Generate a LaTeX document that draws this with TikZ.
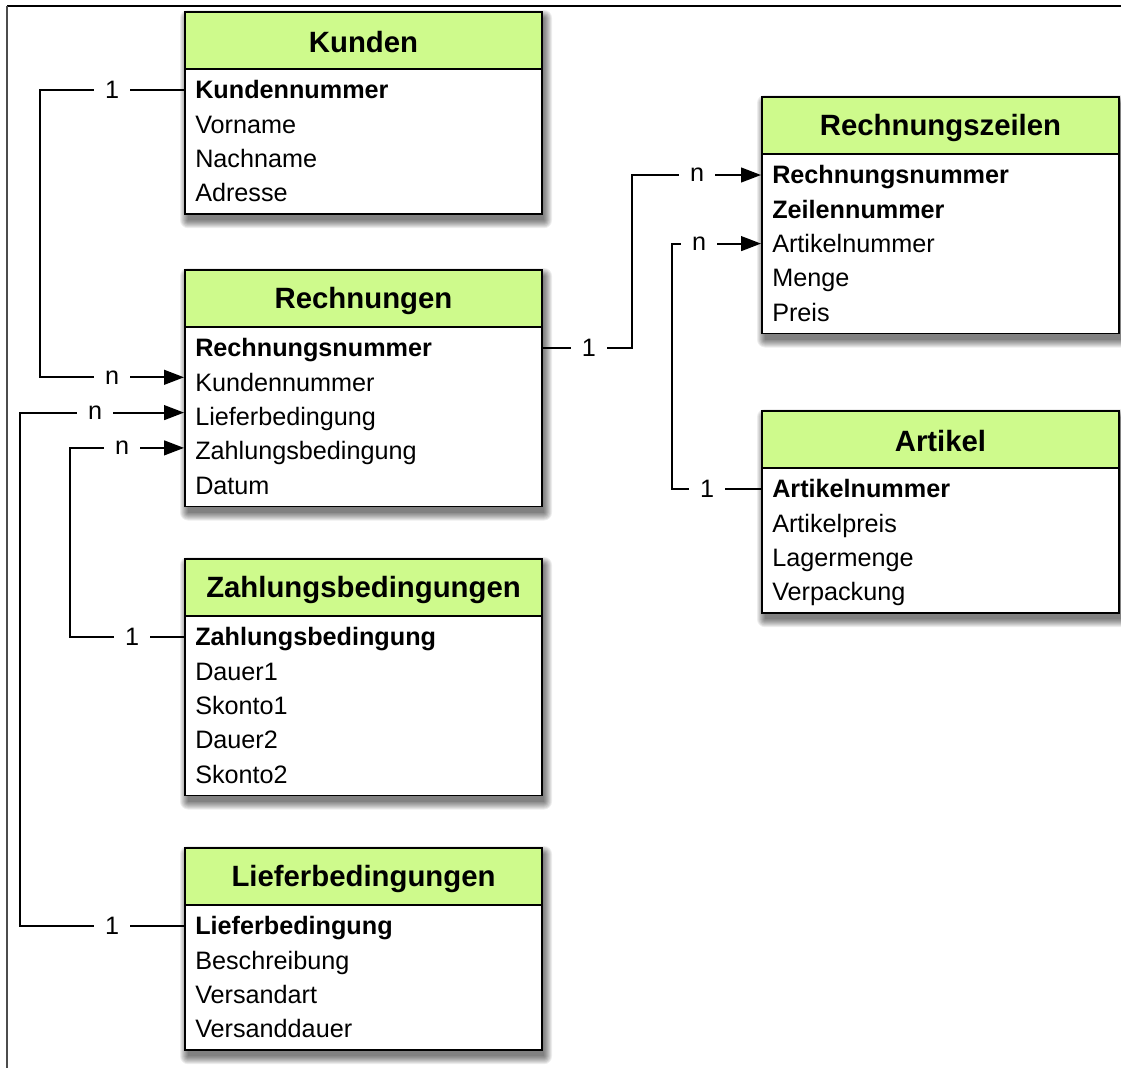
\documentclass[tikz,border=0pt]{standalone}
\usepackage{fontspec}
\setmainfont{Liberation Sans}
\usetikzlibrary{arrows.meta,fit,calc}
\definecolor{hdr}{RGB}{206,250,140}
\newcommand\rowfont{\fontsize{18.9}{22}\selectfont}
\newcommand\titlefont{\fontsize{22}{26}\selectfont\bfseries}
\tikzset{
 conn/.style={line width=1.6pt, line join=miter},
 arr/.style={conn, -{Triangle[length=15pt,width=11pt]}},
 lbl/.style={fill=white, inner xsep=8.5pt, inner ysep=1pt, font=\rowfont},
 rowtext/.style={inner sep=0pt, text height=13.4pt, text depth=0pt, anchor=west, font=\rowfont},
 tabframe/.style={draw=black, line width=1.4pt, inner sep=0pt},
 titletext/.style={font=\titlefont, inner sep=0pt},
}
% #1 id, #2 left x, #3 top y, #4 number of rows, #5 title, #6 rows
\newcommand\dbtable[6]{%
 \pgfmathsetmacro\tbot{#3+57+34.3*#4+8}
 \foreach \s in {0,...,8}{\fill[black, opacity=0.07, rounded corners=\s*0.75pt] ({#2+3-\s},{#3+6-\s}) rectangle ({#2+359+\s},{\tbot+6+\s});}
 \coordinate (#1-nw) at (#2,#3);
 \coordinate (#1-hse) at ({#2+357},{#3+57});
 \coordinate (#1-se) at ({#2+357},\tbot);
 \node[tabframe, fill=white, fit=(#1-nw)(#1-se)] (#1) {};
 \node[tabframe, fill=hdr, fit=(#1-nw)(#1-hse)] (#1-h) {};
 \node[titletext] (#1-t) at ($(#1-h.center)+(0,2)$) {#5};
 \foreach \r [count=\i] in {#6} {\node[rowtext] (#1-\i) at ({#2+10},{#3+78+34.3*(\i-1)}) {\r};}
}
\begin{document}
\begin{tikzpicture}[x=0.75pt,y=-0.75pt]
\useasboundingbox (0,0) rectangle (1121,1068);
\fill[white] (0,0) rectangle (1121,1068);
\draw[line width=1.5pt, black] (7,6) -- (1121,6);
\draw[line width=1.2pt, black!70] (7,6) -- (7,1068);

\dbtable{kunden}{185}{12}{4}{Kunden}{\textbf{Kundennummer},Vorname,Nachname,Adresse}
\dbtable{rech}{185}{270}{5}{Rechnungen}{\textbf{Rechnungsnummer},Kundennummer,Lieferbedingung,Zahlungsbedingung,Datum}
\dbtable{zahl}{185}{559}{5}{Zahlungsbedingungen}{\textbf{Zahlungsbedingung},Dauer1,Skonto1,Dauer2,Skonto2}
\dbtable{lief}{185}{848}{4}{Lieferbedingungen}{\textbf{Lieferbedingung},Beschreibung,Versandart,Versanddauer}
\dbtable{rz}{762}{97}{5}{Rechnungszeilen}{\textbf{Rechnungsnummer},\textbf{Zeilennummer},Artikelnummer,Menge,Preis}
\dbtable{art}{762}{411}{4}{Artikel}{\textbf{Artikelnummer},Artikelpreis,Lagermenge,Verpackung}

% ports
\coordinate (pK1) at (kunden.west |- kunden-1);
\coordinate (pR1) at (rech.east |- rech-1);
\coordinate (pR2) at ($(rech.west |- rech-2)+(0,-5)$);
\coordinate (pR3) at ($(rech.west |- rech-3)+(0,-4)$);
\coordinate (pR4) at ($(rech.west |- rech-4)+(0,-3)$);
\coordinate (pZ1) at (zahl.west |- zahl-1);
\coordinate (pL1) at (lief.west |- lief-1);
\coordinate (pRZ1) at (rz.west |- rz-1);
\coordinate (pRZ3) at (rz.west |- rz-3);
\coordinate (pA1) at (art.west |- art-1);
% bends
\coordinate (cA) at (40,300);
\coordinate (cB) at (20,600);
\coordinate (cC) at (70,550);
\coordinate (cD) at (632,250);
\coordinate (cE) at (672,350);

\draw[arr] (pK1) -| (cA) |- (pR2);
\draw[arr] (pL1) -| (cB) |- (pR3);
\draw[arr] (pZ1) -| (cC) |- (pR4);
\draw[arr] (pR1) -| (cD) |- (pRZ1);
\draw[arr] (pA1) -| (cE) |- (pRZ3);

\path (pK1) ++(-72,0) node[lbl] (lA1) {1};
\path (pR2) ++(-72,0) node[lbl] (lAn) {n};
\path (pL1) ++(-72,0) node[lbl] (lB1) {1};
\path (pR3) ++(-89,0) node[lbl] (lBn) {n};
\path (pZ1) ++(-52,0) node[lbl] (lC1) {1};
\path (pR4) ++(-62,0) node[lbl] (lCn) {n};
\path (pR1) ++(46,0) node[lbl] (lD1) {1};
\path (pRZ1) ++(-64,0) node[lbl] (lDn) {n};
\path (pA1) ++(-54,0) node[lbl] (lE1) {1};
\path (pRZ3) ++(-62,0) node[lbl] (lEn) {n};
\end{tikzpicture}
\end{document}
